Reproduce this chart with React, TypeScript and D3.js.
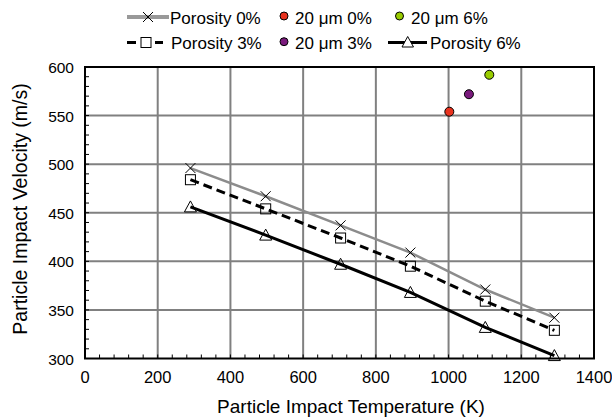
import React from "react";
import * as d3 from "d3";

const temps0 = [290, 497, 703, 895, 1101, 1291];
const vel0 = [496, 467, 437, 409, 371, 342];
const temps3 = [290, 497, 703, 895, 1101, 1291];
const vel3 = [484, 454, 424, 395, 359, 329];
const temps6 = [290, 497, 703, 895, 1101, 1291];
const vel6 = [456, 427, 397, 368, 332, 303];
const dotNames = ["20 μm 0%", "20 μm 3%", "20 μm 6%"];
const dotTemps = [1002, 1056, 1112];
const dotVels = [554, 572, 592];
const dotColors = ["#e8321e", "#7a1a7c", "#99cc00"];
const xTicks = [0, 200, 400, 600, 800, 1000, 1200, 1400];
const yTicks = [300, 350, 400, 450, 500, 550, 600];

const FONT = "'Liberation Sans', Arial, Helvetica, sans-serif";

export default function App() {
  const W = 612, H = 419;
  const left = 85, right = 594, top = 67, bottom = 358.5;
  const x = d3.scaleLinear().domain([0, 1400]).range([left, right]);
  const y = d3.scaleLinear().domain([300, 600]).range([bottom, top]);
  const line = d3.line<[number, number]>().x(d => x(d[0])).y(d => y(d[1]));
  const pts = (xs: number[], ys: number[]) => xs.map((v, i) => [v, ys[i]] as [number, number]);
  const xMinor = d3.range(0, 1401, 40);
  const yMinor = d3.range(300, 601, 10);

  const xMark = (cx: number, cy: number, k: string) => (
    <path key={k} d={`M${cx - 5},${cy - 5}L${cx + 5},${cy + 5}M${cx - 5},${cy + 5}L${cx + 5},${cy - 5}`} stroke="#000" strokeWidth={1} fill="none" />
  );
  const sqMark = (cx: number, cy: number, k: string) => (
    <rect key={k} x={cx - 5} y={cy - 5} width={10} height={10} stroke="#000" strokeWidth={1} fill="none" />
  );
  const triMark = (cx: number, cy: number, k: string) => (
    <path key={k} d={`M${cx},${cy - 6}L${cx + 6},${cy + 5}L${cx - 6},${cy + 5}Z`} stroke="#000" strokeWidth={1} fill="none" />
  );

  return (
    <svg width={W} height={H} style={{ position: "absolute", left: 0, top: 0 }} fontFamily={FONT}>
      <rect width={W} height={H} fill="#fff" />
      {/* grid */}
      {xTicks.slice(1, -1).map(t => (
        <line key={"gx" + t} x1={x(t)} x2={x(t)} y1={top} y2={bottom} stroke="#808080" strokeWidth={2} />
      ))}
      {yTicks.slice(1, -1).map(t => (
        <line key={"gy" + t} x1={left} x2={right} y1={y(t)} y2={y(t)} stroke="#808080" strokeWidth={2} />
      ))}
      {/* minor ticks */}
      {xMinor.map(t => (
        <line key={"mx" + t} x1={x(t)} x2={x(t)} y1={bottom} y2={bottom - 4} stroke="#000" strokeWidth={1} />
      ))}
      {yMinor.map(t => (
        <line key={"my" + t} x1={left} x2={left + 4} y1={y(t)} y2={y(t)} stroke="#000" strokeWidth={1} />
      ))}
      {/* frame */}
      <rect x={left} y={top} width={right - left} height={bottom - top} fill="none" stroke="#000" strokeWidth={2} />
      {/* series */}
      <path d={line(pts(temps0, vel0)) || ""} stroke="#8c8c8c" strokeWidth={2.5} fill="none" />
      <path d={line(pts(temps3, vel3)) || ""} stroke="#000" strokeWidth={3} strokeDasharray="9,5" fill="none" />
      <path d={line(pts(temps6, vel6)) || ""} stroke="#000" strokeWidth={3} fill="none" />
      {temps0.map((t, i) => xMark(x(t), y(vel0[i]), "x" + i))}
      {temps3.map((t, i) => sqMark(x(t), y(vel3[i]), "s" + i))}
      {temps6.map((t, i) => triMark(x(t), y(vel6[i]), "t" + i))}
      {dotTemps.map((t, i) => (
        <circle key={"d" + i} cx={x(t)} cy={y(dotVels[i])} r={4.5} fill={dotColors[i]} stroke="#000" strokeWidth={1} />
      ))}
      {/* tick labels */}
      {xTicks.map(t => (
        <text key={"tx" + t} x={x(t)} y={383} fontSize={16.5} textAnchor="middle" fill="#000">{t}</text>
      ))}
      {yTicks.map(t => (
        <text key={"ty" + t} x={74} y={y(t) + 6} fontSize={15.5} textAnchor="end" fill="#000">{t}</text>
      ))}
      {/* axis titles */}
      <text x={351} y={413} fontSize={19} textAnchor="middle" fill="#000">Particle Impact Temperature (K)</text>
      <text transform={`translate(27,209) rotate(-90)`} fontSize={19.5} textAnchor="middle" fill="#000">Particle Impact Velocity (m/s)</text>
      {/* legend */}
      <g fontSize={17} fill="#000">
        <line x1={127} x2={169} y1={17} y2={17} stroke="#999" strokeWidth={4} />
        {xMark(148, 17, "lx")}
        <text x={170} y={24}>Porosity 0%</text>
        <line x1={127} x2={163} y1={42.5} y2={42.5} stroke="#000" strokeWidth={3} strokeDasharray="9,5" />
        <rect x={141} y={37.5} width={10} height={10} stroke="#000" strokeWidth={1} fill="#fff" />
        <text x={171} y={49}>Porosity 3%</text>
        <circle cx={284} cy={16} r={4} fill={dotColors[0]} stroke="#000" strokeWidth={1} />
        <text x={295} y={24}>{dotNames[0]}</text>
        <circle cx={284} cy={41.7} r={4} fill={dotColors[1]} stroke="#000" strokeWidth={1} />
        <text x={295} y={49}>{dotNames[1]}</text>
        <circle cx={399.5} cy={16} r={4} fill={dotColors[2]} stroke="#000" strokeWidth={1} />
        <text x={411} y={24}>{dotNames[2]}</text>
        <line x1={388} x2={427} y1={42.5} y2={42.5} stroke="#000" strokeWidth={3} />
        <path d="M407.7,36.5L413.5,47L402,47Z" stroke="#000" strokeWidth={1} fill="#fff" />
        <text x={430} y={49}>Porosity 6%</text>
      </g>
    </svg>
  );
}
